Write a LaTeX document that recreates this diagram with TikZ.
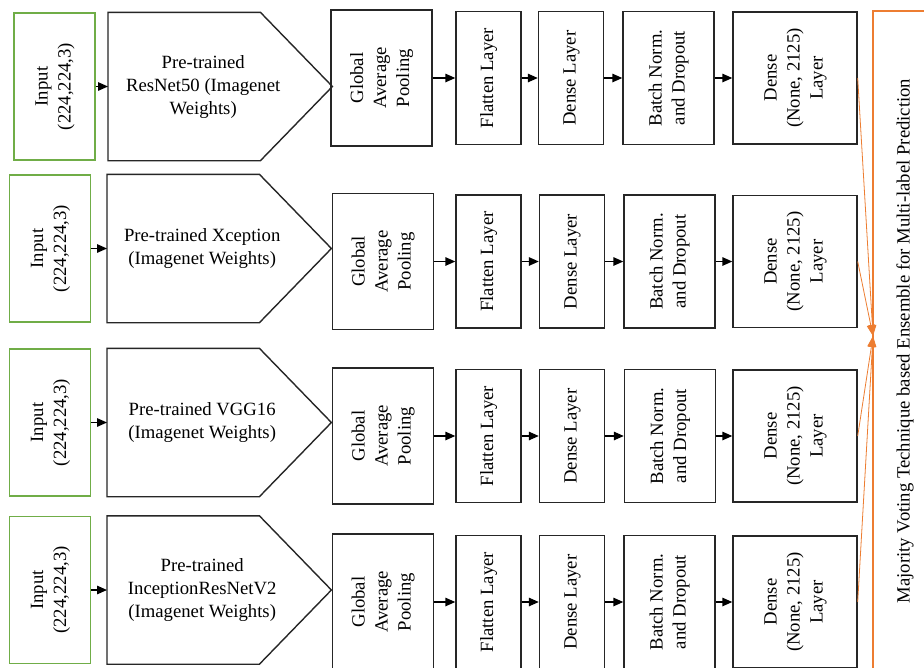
\documentclass[tikz,border=0pt]{standalone}
\usepackage{fontspec}
\setmainfont{Liberation Serif}
\usepackage{graphicx}
\usetikzlibrary{arrows.meta}
\definecolor{inputgreen}{HTML}{70AD47}
\definecolor{voteorange}{HTML}{ED7D31}
\definecolor{boxline}{HTML}{262626}
\newcommand{\vtext}[1]{\rotatebox{90}{\begin{tabular}{@{}c@{}}#1\end{tabular}}}
\newcommand{\ptext}[1]{\begin{tabular}{@{}c@{}}#1\end{tabular}\kern34pt}
\tikzset{
  layer/.style={draw=boxline, line width=1.4pt, inner sep=0pt, font=\fontsize{18.7}{23}\selectfont},
  inputbox/.style={layer, draw=inputgreen, minimum width=81pt, minimum height=147pt},
  pretrained/.style={layer, draw=none, minimum width=223pt, minimum height=147pt},
  pentaline/.style={draw=boxline, line width=1.4pt, line join=miter},
  gapbox/.style={layer, minimum width=101pt, minimum height=136pt},
  thinbox/.style={layer, minimum width=65pt, minimum height=133pt},
  bnbox/.style={layer, minimum width=91pt, minimum height=133pt},
  outbox/.style={layer, minimum width=124pt, minimum height=132pt},
  votebox/.style={layer, draw=voteorange, minimum width=64pt, minimum height=660pt},
  flow/.style={-{Triangle[length=10pt,width=8.5pt]}, line width=1.4pt, draw=black},
  vote/.style={-{Triangle[length=11pt,width=8pt]}, line width=0.8pt, draw=voteorange},
}
\begin{document}
\begin{tikzpicture}[x=1pt,y=-1pt]
          \fill[white] (0,0) rectangle (924,667);
          \useasboundingbox (0,0) rectangle (924,667);
          \clip (0,0) rectangle (924,667);
          % ResNet50 branch
          \node[inputbox] at (54.5,86.5) (in1) {\vtext{Input\\(224,224,3)}};
          \node[pretrained, anchor=west] at (108,86.5) (pt1) {\ptext{Pre-trained\\ResNet50 (Imagenet\\Weights)}};
          \node[gapbox] at (381.5,78) (gap1) {\vtext{Global\\Average\\Pooling}};
          \node[thinbox] at (488.5,78) (fl1) {\vtext{Flatten Layer}};
          \node[thinbox] at (571,78) (de1) {\vtext{Dense Layer}};
          \node[bnbox] at (668.5,78) (bn1) {\vtext{Batch Norm.\\and Dropout}};
          \node[outbox] at (795,78) (out1) {\vtext{Dense\\(None, 2125)\\Layer}};
          % Xception branch
          \node[inputbox] at (50,248.5) (in2) {\vtext{Input\\(224,224,3)}};
          \node[pretrained, anchor=west] at (107,248.5) (pt2) {\ptext{Pre-trained Xception\\(Imagenet Weights)}};
          \node[gapbox] at (383,261.5) (gap2) {\vtext{Global\\Average\\Pooling}};
          \node[thinbox] at (488.5,261.5) (fl2) {\vtext{Flatten Layer}};
          \node[thinbox] at (572,261.5) (de2) {\vtext{Dense Layer}};
          \node[bnbox] at (669.5,261.5) (bn2) {\vtext{Batch Norm.\\and Dropout}};
          \node[outbox] at (795,261.5) (out2) {\vtext{Dense\\(None, 2125)\\Layer}};
          % VGG16 branch
          \node[inputbox] at (50,422.5) (in3) {\vtext{Input\\(224,224,3)}};
          \node[pretrained, anchor=west] at (107,422.5) (pt3) {\ptext{Pre-trained VGG16\\(Imagenet Weights)}};
          \node[gapbox] at (383,436) (gap3) {\vtext{Global\\Average\\Pooling}};
          \node[thinbox] at (488.5,436) (fl3) {\vtext{Flatten Layer}};
          \node[thinbox] at (572,436) (de3) {\vtext{Dense Layer}};
          \node[bnbox] at (670,436) (bn3) {\vtext{Batch Norm.\\and Dropout}};
          \node[outbox] at (795,436) (out3) {\vtext{Dense\\(None, 2125)\\Layer}};
          % InceptionResNetV2 branch
          \node[inputbox] at (50,590) (in4) {\vtext{Input\\(224,224,3)}};
          \node[pretrained, anchor=west] at (107,590) (pt4) {\ptext{Pre-trained\\InceptionResNetV2\\(Imagenet Weights)}};
          \node[gapbox] at (383,602) (gap4) {\vtext{Global\\Average\\Pooling}};
          \node[thinbox] at (488.5,602) (fl4) {\vtext{Flatten Layer}};
          \node[thinbox] at (572,602) (de4) {\vtext{Dense Layer}};
          \node[bnbox] at (669.5,602) (bn4) {\vtext{Batch Norm.\\and Dropout}};
          \node[outbox] at (795,602) (out4) {\vtext{Dense\\(None, 2125)\\Layer}};
          % pentagon outlines
          \draw[pentaline] (pt1.north west) -- ([xshift=-72pt]pt1.north east) -- (pt1.east) -- ([xshift=-72pt]pt1.south east) -- (pt1.south west) -- cycle;
          \draw[pentaline] (pt2.north west) -- ([xshift=-72pt]pt2.north east) -- (pt2.east) -- ([xshift=-72pt]pt2.south east) -- (pt2.south west) -- cycle;
          \draw[pentaline] (pt3.north west) -- ([xshift=-72pt]pt3.north east) -- (pt3.east) -- ([xshift=-72pt]pt3.south east) -- (pt3.south west) -- cycle;
          \draw[pentaline] (pt4.north west) -- ([xshift=-72pt]pt4.north east) -- (pt4.east) -- ([xshift=-72pt]pt4.south east) -- (pt4.south west) -- cycle;
          % ensemble
          \node[votebox] at (905,341) (mv) {\vtext{Majority Voting Technique based Ensemble for Multi-label Prediction}};
          \coordinate (mvin) at (873,336);
          \path[flow] (in1) edge (pt1);
          \path[flow] (gap1) edge (fl1);
          \path[flow] (fl1) edge (de1);
          \path[flow] (de1) edge (bn1);
          \path[flow] (bn1) edge (out1);
          \path[flow] (in2) edge (pt2);
          \path[flow] (gap2) edge (fl2);
          \path[flow] (fl2) edge (de2);
          \path[flow] (de2) edge (bn2);
          \path[flow] (bn2) edge (out2);
          \path[flow] (in3) edge (pt3);
          \path[flow] (gap3) edge (fl3);
          \path[flow] (fl3) edge (de3);
          \path[flow] (de3) edge (bn3);
          \path[flow] (bn3) edge (out3);
          \path[flow] (in4) edge (pt4);
          \path[flow] (gap4) edge (fl4);
          \path[flow] (fl4) edge (de4);
          \path[flow] (de4) edge (bn4);
          \path[flow] (bn4) edge (out4);
          \draw[vote] (out1.east) -- (mvin);
          \draw[vote] (out2.east) -- (mvin);
          \draw[vote] (out3.east) -- (mvin);
          \draw[vote] (out4.east) -- (mvin);
        \end{tikzpicture}
\end{document}
